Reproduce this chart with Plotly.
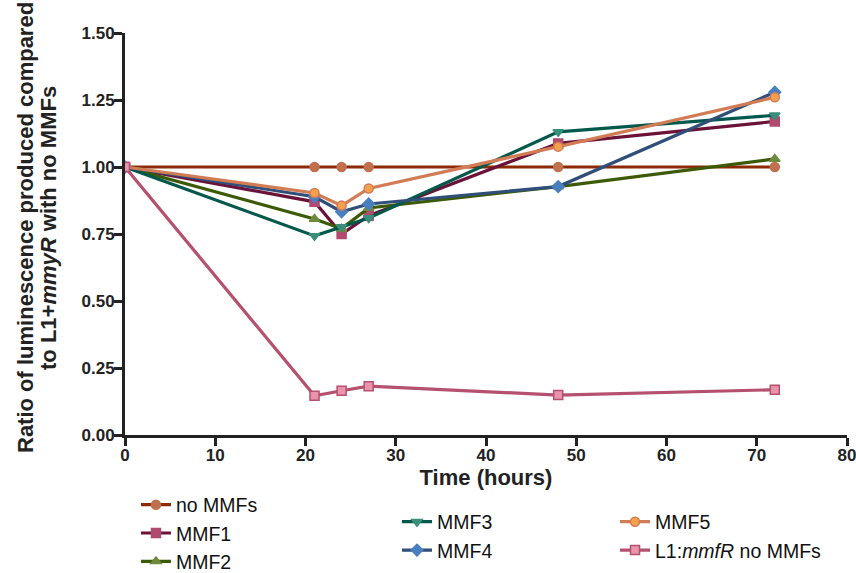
import plotly.graph_objects as go

time_h = [0, 21, 24, 27, 48, 72]
no_mmfs = [1.0, 1.0, 1.0, 1.0, 1.0, 1.0]
mmf1 = [1.0, 0.87, 0.75, 0.818, 1.088, 1.17]
mmf2 = [1.0, 0.806, 0.77, 0.847, 0.927, 1.03]
mmf3 = [1.0, 0.743, 0.776, 0.81, 1.131, 1.193]
mmf4 = [1.0, 0.889, 0.833, 0.862, 0.927, 1.279]
mmf5 = [1.0, 0.903, 0.856, 0.92, 1.076, 1.26]
l1_mmfr = [1.0, 0.146, 0.165, 0.182, 0.149, 0.169]

y_title_line1 = "Ratio of luminescence produced compared"
y_title_line2 = "to L1+<i>mmyR</i> with no MMFs"

series = [
    ("no MMFs", no_mmfs, "#8B2A05", "#C0704F", "#C0704F", "circle", "legend"),
    ("MMF1", mmf1, "#6A1238", "#B04A6E", "#B04A6E", "square", "legend"),
    ("MMF2", mmf2, "#3C5A05", "#6E8B3D", "#6E8B3D", "triangle-up", "legend"),
    ("MMF3", mmf3, "#02584A", "#3A8F7A", "#3A8F7A", "triangle-down", "legend2"),
    ("MMF4", mmf4, "#2F4F7A", "#4A7FBF", "#4A7FBF", "diamond", "legend2"),
    ("MMF5", mmf5, "#D27C55", "#F5A04E", "#D27C55", "circle", "legend3"),
    ("L1:<i>mmfR</i> no MMFs", l1_mmfr, "#B5506F", "#E993AD", "#B5506F", "square", "legend3"),
]

fig = go.Figure()
for name, vals, lc, mc, mlc, sym, lg in series:
    fig.add_trace(go.Scatter(
        x=time_h, y=vals, name=name, mode="lines+markers",
        line=dict(color=lc, width=3.2),
        marker=dict(symbol=sym, size=9, color=mc, line=dict(color=mlc, width=1.5)),
        legend=lg,
    ))

FAM = "Arial, Liberation Sans, sans-serif"
font_bold = dict(family=FAM, size=17, color="#222", weight="bold")
title_font = dict(family=FAM, size=22, color="#222", weight="bold")
legend_common = dict(
    orientation="v", bgcolor="rgba(0,0,0,0)", xanchor="left", yanchor="top",
    font=dict(family=FAM, size=19.5, color="#111"),
    tracegroupgap=0, itemwidth=30,
)

fig.update_layout(
    width=856, height=573,
    margin=dict(l=125, r=9, t=33, b=138, autoexpand=False),
    plot_bgcolor="white", paper_bgcolor="white",
    xaxis=dict(
        range=[0, 80], tickvals=[0, 10, 20, 30, 40, 50, 60, 70, 80],
        showgrid=False, zeroline=False, showline=True, linecolor="#222", linewidth=3,
        ticks="outside", ticklen=8, tickwidth=2.5, tickcolor="#222",
        tickfont=font_bold, automargin=False, ticklabeloverflow="allow",
        ticklabelstandoff=-5,
        title=dict(text="Time (hours)", font=title_font, standoff=6),
    ),
    yaxis=dict(
        range=[0, 1.5], tickvals=[0, 0.25, 0.5, 0.75, 1.0, 1.25, 1.5], tickformat=".2f",
        showgrid=False, zeroline=False, showline=True, linecolor="#222", linewidth=3,
        ticks="outside", ticklen=8, tickwidth=2.5, tickcolor="#222",
        tickfont=font_bold, automargin=False, ticklabeloverflow="allow",
        ticklabelstandoff=-4,
    ),
    legend=dict(x=0.0152, y=-0.1256, **legend_common),
    legend2=dict(x=0.3767, y=-0.168, **legend_common),
    legend3=dict(x=0.6787, y=-0.168, **legend_common),
    annotations=[
        dict(text=y_title_line1, xref="paper", yref="paper", x=0, y=0.5,
             xshift=-100, yshift=6, textangle=-90, showarrow=False,
             xanchor="center", yanchor="middle", font=title_font),
        dict(text=y_title_line2, xref="paper", yref="paper", x=0, y=0.5,
             xshift=-77, yshift=6, textangle=-90, showarrow=False,
             xanchor="center", yanchor="middle", font=title_font),
    ],
)

fig.write_html("out.html", post_script="document.body.style.margin='0';",
               config={"displayModeBar": False})
